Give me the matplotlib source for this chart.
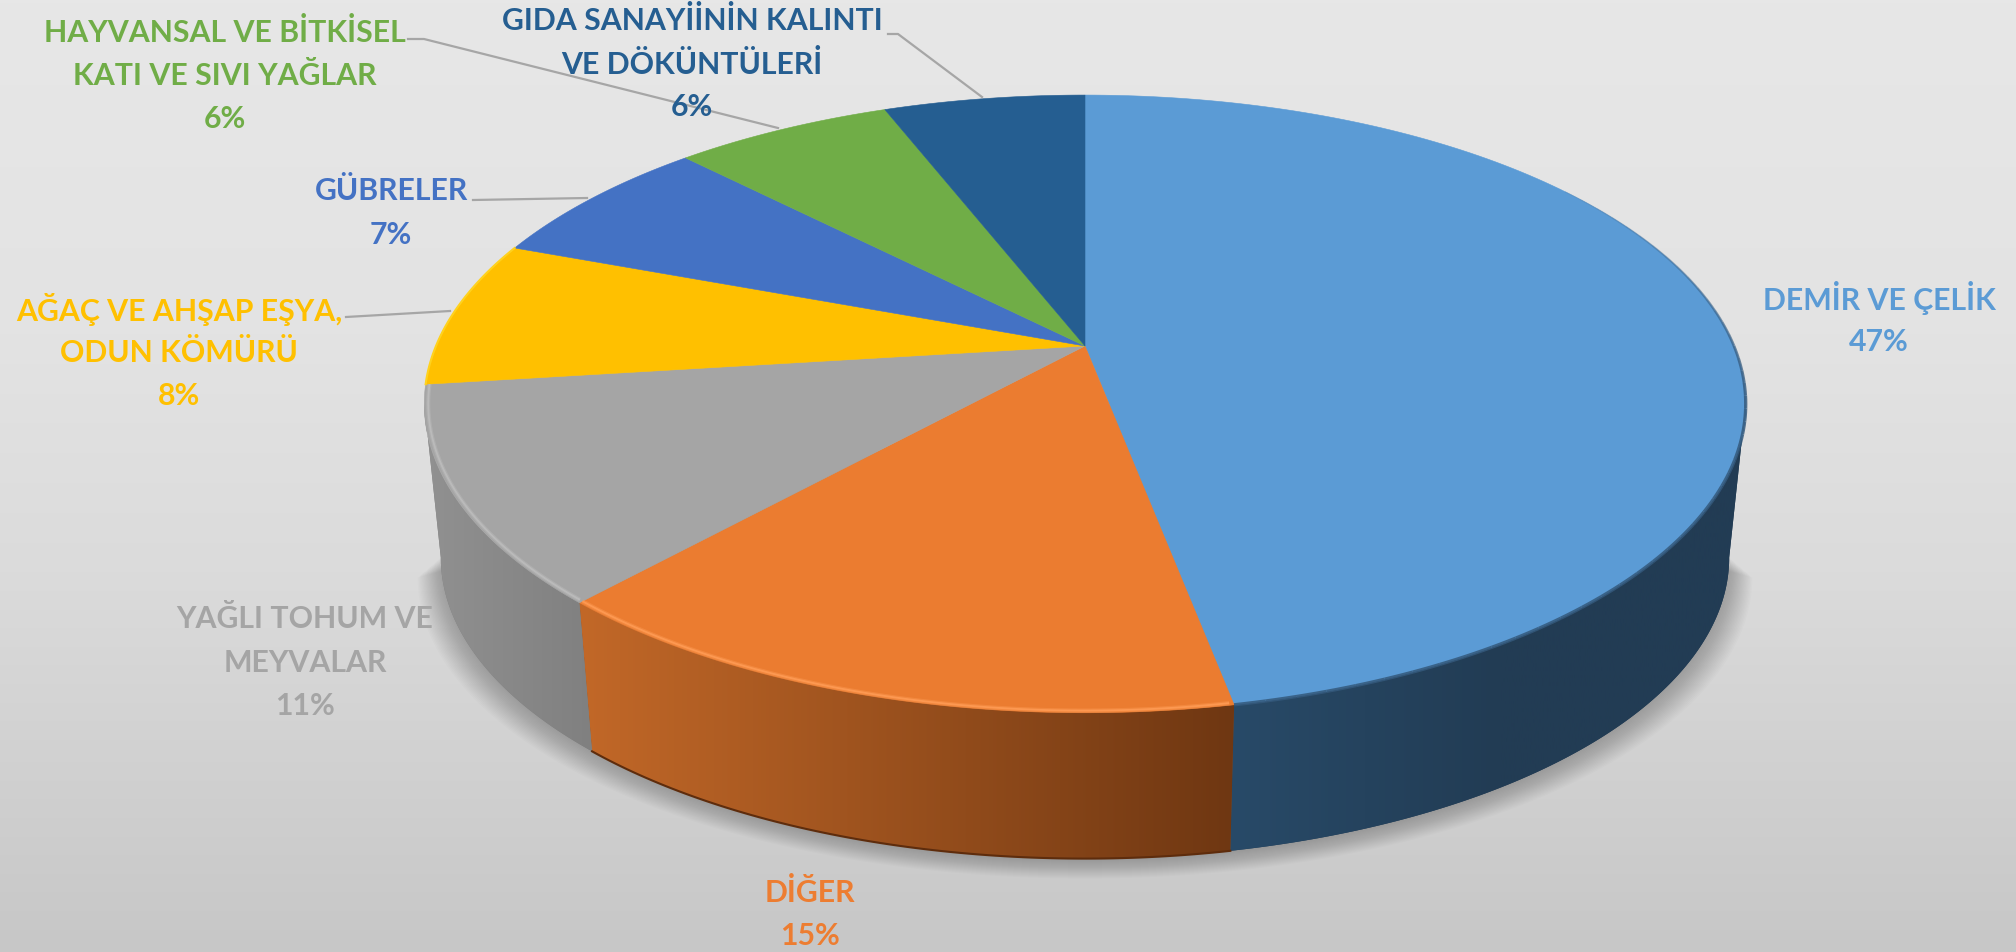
#!/usr/bin/env python3
# -*- coding: utf-8 -*-
import matplotlib
matplotlib.use('Agg')
import matplotlib.pyplot as plt
from matplotlib.colors import LinearSegmentedColormap
import numpy as np

plt.rcParams['font.family'] = ['Lato', 'Open Sans', 'DejaVu Sans']

# ---- data ----
names = ['DEMİR VE ÇELİK', 'DİĞER', 'YAĞLI TOHUM VE\nMEYVALAR', 'AĞAÇ VE AHŞAP EŞYA,\nODUN KÖMÜRÜ',
         'GÜBRELER', 'HAYVANSAL VE BİTKİSEL\nKATI VE SIVI YAĞLAR', 'GIDA SANAYİİNİN KALINTI\nVE DÖKÜNTÜLERİ']
shares = [47.0, 14.7, 11.3, 7.7, 7.0, 6.4, 5.9]

# ---- style ----
colors = ['#5B9BD5', '#EB7C30', '#A5A5A5', '#FFC000', '#4472C4', '#70AD47', '#255E91']
text_colors = ['#5B9BD5', '#ED7D31', '#A5A5A5', '#FFC000', '#4472C4', '#70AD47', '#255E91']
wall_left = ['#284A68', '#C26828', '#919191', '#B88A00', '#2F5597', '#507C32', '#1A4468']
wall_right = ['#223C54', '#6F3712', '#808080', '#B88A00', '#2F5597', '#507C32', '#1A4468']
rim_colors = [None, '#FF9C55', '#BDBDBD', None, None, None, None]

# label centres of the first line, px
label_xy = [(1879, 296), (810, 890), (305, 617), (179, 307), (391, 189), (225, 30), (692, 18)]
# leader lines, px
leaders = [
    [(408, 40), (424, 40), (778, 129)],
    [(888, 35), (898, 35), (982, 98)],
    [(473, 201), (587, 199)],
    [(346, 318), (450, 312)],
]

W, H = 2016, 953
CX, CY = 1085, 347      # pie apex on screen
A, B, K = 649, 298, 0.1875  # perspective of the top face
DROP, SHRINK = 155, 0.975   # bottom face relative to top
SIDE_R, SIDE_L = 100.8, 259.2   # where the wall turns out of sight


def top_rim(t):
    """angle in degrees, clockwise from 12 o'clock -> screen px"""
    u, v = np.sin(np.radians(t)), np.cos(np.radians(t))
    w = 1 + K * v
    return CX + A * u / w, CY - B * v / w


def bottom_rim(t):
    x, y = top_rim(t)
    return CX + SHRINK * (x - CX), CY + SHRINK * (y - CY) + DROP


fig = plt.figure(figsize=(W / 100, H / 100), dpi=100)
ax = fig.add_axes([0, 0, 1, 1])

# ---- background ----
bg = LinearSegmentedColormap.from_list('bg', [(0, '#E7E7E7'), (0.35, '#E3E3E3'),
                                              (0.6, '#DBDBDB'), (1, '#C7C7C7')])
ax.imshow(np.linspace(0, 1, 256)[:, None], cmap=bg, extent=(0, W, H, 0), aspect='auto', zorder=0)

# ---- soft shadow under the wall ----
tt = np.linspace(SIDE_R, SIDE_L, 200)
for i in range(1, 21):
    bx, by = bottom_rim(tt)
    sx = CX + (bx - CX) * (1 + i * 0.0018)
    sy = by + i * 1.0
    ax.fill(np.r_[sx, CX], np.r_[sy, 400], color='black', alpha=0.011, lw=0, zorder=1)

# ---- slices ----
ends = np.cumsum(shares) / np.sum(shares) * 360
starts = np.r_[0, ends[:-1]]

for s, e, cl, cr in zip(starts, ends, wall_left, wall_right):
    s, e = max(s, SIDE_R), min(e, SIDE_L)
    if s >= e:
        continue
    t = np.linspace(s, e, 120)
    xt, yt = top_rim(t)
    xb, yb = bottom_rim(t)
    poly = ax.fill(np.r_[xt, xb[::-1]], np.r_[yt, yb[::-1]], color=cr, lw=0, zorder=2)[0]
    # shading runs left to right across the wall
    cmap = LinearSegmentedColormap.from_list('w', [cl, cr])
    x0, x1 = min(xt.min(), xb.min()), max(xt.max(), xb.max())
    if cl == wall_left[0]:
        # the blue wall is only lit just next to the orange one
        grad = np.clip((np.linspace(x0, x1, 256) - x0) / 270, 0, 1)[None, :]
        im = ax.imshow(grad, cmap=cmap, vmin=0, vmax=1, extent=(x0, x1, H, 0),
                       aspect='auto', zorder=2.1)
    else:
        im = ax.imshow(np.linspace(0, 1, 256)[None, :], cmap=cmap, extent=(x0, x1, H, 0),
                       aspect='auto', zorder=2.1)
    im.set_clip_path(poly)

# dark line along the foot of the orange wall
xb, yb = bottom_rim(np.linspace(starts[1], ends[1], 80))
ax.plot(xb, yb, color='#5E2C0C', lw=1.5, zorder=2.5)

for s, e, c in zip(starts, ends, colors):
    t = np.linspace(s, e, 160)
    xt, yt = top_rim(t)
    ax.fill(np.r_[CX, xt], np.r_[CY, yt], color=c, lw=0.4, ec=c, zorder=3)

# ---- bevel on the rim ----
for s, e, rc in zip(starts, ends, rim_colors):
    if rc is None:
        continue
    t = np.linspace(s + 0.3, e, 120)
    x, y = top_rim(t)
    x = CX + (x - CX) * 0.994
    y = CY + (y - CY) * 0.994
    ax.plot(x, y, color=rc, lw=3.0, alpha=0.4, zorder=4, solid_capstyle='butt')
    ax.plot(x, y, color=rc, lw=1.3, alpha=0.85, zorder=4, solid_capstyle='butt')

# blue edge darkens gradually towards the wall
seg = np.linspace(55, ends[0], 50)
for t0, t1 in zip(seg[:-1], seg[1:]):
    x, y = top_rim(np.linspace(t0, t1, 4))
    fade = min(1, (t0 - 55) / 45)
    ax.plot(x, y, color='#34597C', lw=0.8 + 1.6 * fade, alpha=0.15 + 0.7 * fade,
            zorder=4, solid_capstyle='butt')

# yellow edge is a touch brighter
t = np.linspace(starts[3], ends[3], 60)
x, y = top_rim(t)
ax.plot(x, y, color='#FFD21E', lw=1.5, zorder=4)

# ---- leader lines ----
for pts in leaders:
    ax.plot(*zip(*pts), color='#A6A6A6', lw=1.6, zorder=5)

# ---- labels ----
for name, share, (x, y), c in zip(names, shares, label_xy, text_colors):
    lines = name.split('\n') + [f'{share:.0f}%']
    for i, line in enumerate(lines):
        ax.text(x, y + i * 43.5, line, color=c, fontsize=21.8, fontweight='bold',
                ha='center', va='center_baseline', zorder=6)

ax.set_xlim(0, W)
ax.set_ylim(H, 0)
ax.axis('off')

fig.savefig('out.png', dpi=100)
plt.close(fig)
